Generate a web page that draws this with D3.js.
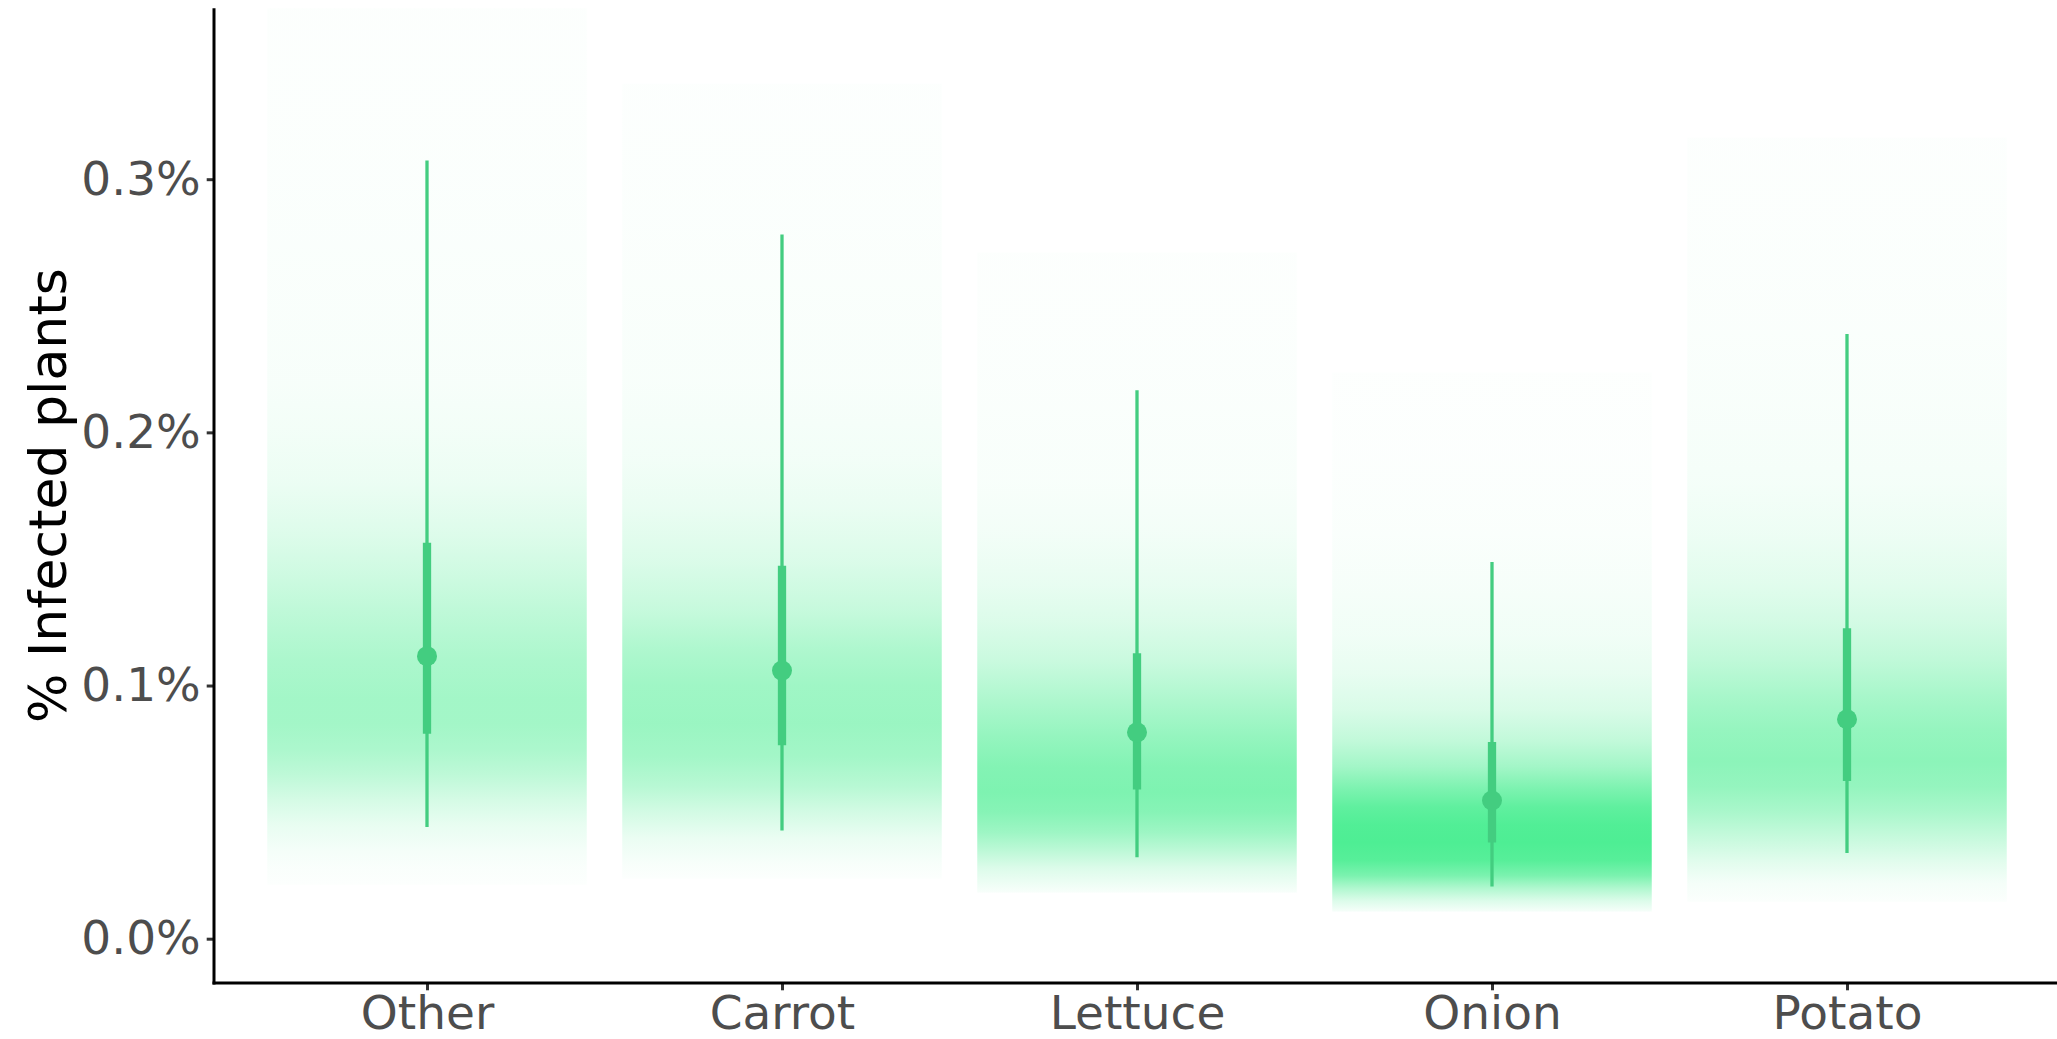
<!DOCTYPE html>
<html>
<head>
<meta charset="utf-8">
<script src="https://cdn.jsdelivr.net/npm/d3@7"></script>
<style>
  html, body { margin: 0; padding: 0; background: #ffffff; }
  svg { display: block; }
  text { font-family: "DejaVu Sans", sans-serif; }
</style>
</head>
<body>
<svg id="chart" width="2057" height="1039"></svg>
<script>
// Crop groups on the x axis
const categories = ["Other", "Carrot", "Lettuce", "Onion", "Potato"];

// Posterior summaries, in % infected plants
const medians = [0.1116, 0.1059, 0.0815, 0.0546, 0.0867];
const lower66 = [0.0810, 0.0764, 0.0589, 0.0380, 0.0623];
const upper66 = [0.1564, 0.1473, 0.1127, 0.0777, 0.1226];
const lower95 = [0.0441, 0.0427, 0.0322, 0.0206, 0.0338];
const upper95 = [0.3074, 0.2782, 0.2166, 0.1488, 0.2389];

// Extent of the posterior draws for each group (slab range)
const slabMin = [0.0213, 0.0237, 0.0182, 0.0107, 0.0146];
const slabMax = [0.3900, 0.3377, 0.2710, 0.2236, 0.3164];

// Density profiles as [value, relative density]; densities share one scale
const densityOther = [
  [0.3900, 0.015], [0.3300, 0.018], [0.2900, 0.025], [0.2500, 0.033], [0.2200, 0.045],
  [0.2000, 0.07], [0.1800, 0.11], [0.1600, 0.19], [0.1450, 0.27], [0.1300, 0.36],
  [0.1100, 0.47], [0.0950, 0.52], [0.0850, 0.52], [0.0750, 0.47], [0.0650, 0.37],
  [0.0550, 0.24], [0.0450, 0.13], [0.0350, 0.06], [0.0280, 0.03], [0.0213, 0.015]
];
const densityCarrot = [
  [0.3377, 0.015], [0.3000, 0.02], [0.2600, 0.028], [0.2200, 0.04], [0.1900, 0.07],
  [0.1700, 0.12], [0.1500, 0.20], [0.1300, 0.32], [0.1150, 0.45], [0.1000, 0.54],
  [0.0850, 0.57], [0.0720, 0.52], [0.0600, 0.40], [0.0500, 0.25], [0.0400, 0.12],
  [0.0300, 0.045], [0.0237, 0.015]
];
const densityLettuce = [
  [0.2710, 0.015], [0.2375, 0.02], [0.2100, 0.028], [0.1800, 0.04], [0.1600, 0.07],
  [0.1400, 0.13], [0.1250, 0.20], [0.1100, 0.30], [0.0950, 0.45], [0.0800, 0.60],
  [0.0680, 0.70], [0.0580, 0.73], [0.0500, 0.68], [0.0420, 0.55], [0.0350, 0.38],
  [0.0280, 0.20], [0.0182, 0.04]
];
const densityOnion = [
  [0.2236, 0.012], [0.1900, 0.016], [0.1600, 0.028], [0.1400, 0.05], [0.1200, 0.08],
  [0.1050, 0.13], [0.0900, 0.22], [0.0780, 0.35], [0.0680, 0.52], [0.0600, 0.72],
  [0.0520, 0.90], [0.0450, 0.98], [0.0380, 1.00], [0.0310, 0.95], [0.0250, 0.75],
  [0.0200, 0.45], [0.0150, 0.20], [0.0107, 0.05]
];
const densityPotato = [
  [0.3164, 0.015], [0.2800, 0.02], [0.2400, 0.028], [0.2100, 0.04], [0.1800, 0.06],
  [0.1600, 0.10], [0.1400, 0.17], [0.1250, 0.25], [0.1100, 0.36], [0.0950, 0.50],
  [0.0820, 0.60], [0.0700, 0.65], [0.0600, 0.60], [0.0500, 0.48], [0.0400, 0.32],
  [0.0300, 0.16], [0.0220, 0.06], [0.0146, 0.02]
];
const densities = [densityOther, densityCarrot, densityLettuce, densityOnion, densityPotato];

// Axis ticks
const yTicks = [0, 0.1, 0.2, 0.3];
const yLimits = [0, 0.35];

const slabFill = "#4EEE94";     // seagreen2
const intervalColor = "#43CD80"; // seagreen3

const svg = d3.select("#chart");
const W = 2057, H = 1039;
const panel = { left: 214, right: 2060, top: 8.3, bottom: 983 };

svg.append("rect").attr("width", W).attr("height", H).attr("fill", "#ffffff");

// ggplot-style expansion: 5% on the continuous axis, 0.6 units on the discrete one
const ySpan = yLimits[1] - yLimits[0];
const y = d3.scaleLinear()
  .domain([yLimits[0] - 0.05 * ySpan, yLimits[1] + 0.05 * ySpan])
  .range([panel.bottom, panel.top]);

const x = d3.scalePoint()
  .domain(categories)
  .range([panel.left, panel.right])
  .padding(0.6);
const step = x.step();

const defs = svg.append("defs");
defs.append("clipPath").attr("id", "panel-clip")
  .append("rect")
  .attr("x", panel.left).attr("y", panel.top)
  .attr("width", panel.right - panel.left)
  .attr("height", panel.bottom - panel.top);

// One vertical gradient per group, opacity following the density
categories.forEach((c, i) => {
  const y1 = y(slabMax[i]), y2 = y(slabMin[i]);
  const grad = defs.append("linearGradient")
    .attr("id", "slab-" + i)
    .attr("gradientUnits", "userSpaceOnUse")
    .attr("x1", 0).attr("x2", 0)
    .attr("y1", y1).attr("y2", y2);
  densities[i].forEach(([v, d]) => {
    grad.append("stop")
      .attr("offset", ((y(v) - y1) / (y2 - y1)).toFixed(4))
      .attr("stop-color", slabFill)
      .attr("stop-opacity", d);
  });
});

const plot = svg.append("g").attr("clip-path", "url(#panel-clip)");

plot.selectAll("rect.slab")
  .data(categories)
  .join("rect")
  .attr("class", "slab")
  .attr("x", c => x(c) - 0.45 * step)
  .attr("width", 0.9 * step)
  .attr("y", (c, i) => y(slabMax[i]))
  .attr("height", (c, i) => y(slabMin[i]) - y(slabMax[i]))
  .attr("fill", (c, i) => `url(#slab-${i})`);

// 95% intervals
plot.selectAll("line.thin")
  .data(categories)
  .join("line")
  .attr("class", "thin")
  .attr("x1", c => x(c)).attr("x2", c => x(c))
  .attr("y1", (c, i) => y(lower95[i]))
  .attr("y2", (c, i) => y(upper95[i]))
  .attr("stroke", intervalColor)
  .attr("stroke-width", 3.3);

// 66% intervals
plot.selectAll("line.thick")
  .data(categories)
  .join("line")
  .attr("class", "thick")
  .attr("x1", c => x(c)).attr("x2", c => x(c))
  .attr("y1", (c, i) => y(lower66[i]))
  .attr("y2", (c, i) => y(upper66[i]))
  .attr("stroke", intervalColor)
  .attr("stroke-width", 8.3);

// Medians
plot.selectAll("circle.median")
  .data(categories)
  .join("circle")
  .attr("class", "median")
  .attr("cx", c => x(c))
  .attr("cy", (c, i) => y(medians[i]))
  .attr("r", 10)
  .attr("fill", intervalColor);

// Y axis
const yAxis = d3.axisLeft(y)
  .tickValues(yTicks)
  .tickFormat(d => d3.format(".1f")(d) + "%")
  .tickSize(7.3)
  .tickPadding(6);
const gy = svg.append("g")
  .attr("transform", `translate(${panel.left},0)`)
  .call(yAxis);
gy.select(".domain").remove();
gy.selectAll(".tick line").attr("stroke", "#333333").attr("stroke-width", 3);
gy.selectAll(".tick text")
  .attr("fill", "#4D4D4D")
  .attr("font-size", 47)
  .attr("font-family", "DejaVu Sans, sans-serif");

// X axis
const xAxis = d3.axisBottom(x).tickSize(7.3).tickPadding(5);
const gx = svg.append("g")
  .attr("transform", `translate(0,${panel.bottom})`)
  .call(xAxis);
gx.select(".domain").remove();
gx.selectAll(".tick line").attr("stroke", "#333333").attr("stroke-width", 3);
gx.selectAll(".tick text")
  .attr("fill", "#4D4D4D")
  .attr("font-size", 47)
  .attr("font-family", "DejaVu Sans, sans-serif")
  .attr("dy", "0.71em");

// Axis lines
svg.append("line")
  .attr("x1", panel.left).attr("x2", panel.left)
  .attr("y1", panel.top).attr("y2", panel.bottom + 1.5)
  .attr("stroke", "#000000").attr("stroke-width", 3);
svg.append("line")
  .attr("x1", panel.left - 1.5).attr("x2", panel.right)
  .attr("y1", panel.bottom).attr("y2", panel.bottom)
  .attr("stroke", "#000000").attr("stroke-width", 3);

// Y axis title
svg.append("text")
  .attr("transform", `translate(48,${(panel.top + panel.bottom) / 2}) rotate(-90)`)
  .attr("text-anchor", "middle")
  .attr("dominant-baseline", "central")
  .attr("font-size", 52)
  .attr("fill", "#000000")
  .text("% Infected plants");
</script>
</body>
</html>
